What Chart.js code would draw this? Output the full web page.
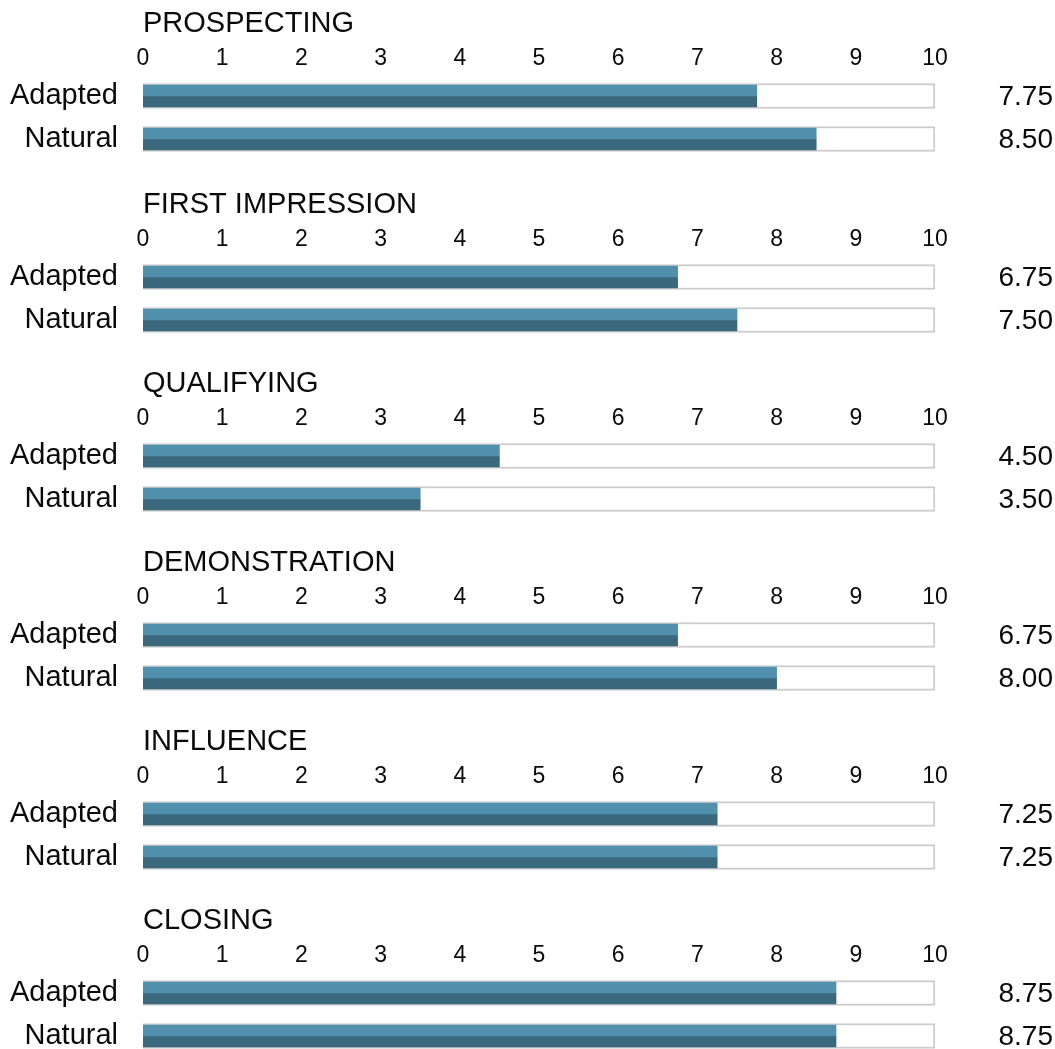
<!DOCTYPE html>
<html>
<head>
<meta charset="utf-8">
<script src="https://cdn.jsdelivr.net/npm/chart.js@4/dist/chart.umd.min.js"></script>
<style>
  body { margin: 0; background: #fff; overflow: hidden; }
  .section { position: absolute; left: 0; width: 1055px; height: 179px; }
</style>
</head>
<body>
<div id="root"></div>
<script>
const sections  = ['PROSPECTING', 'FIRST IMPRESSION', 'QUALIFYING', 'DEMONSTRATION', 'INFLUENCE', 'CLOSING'];
const rowLabels = ['Adapted', 'Natural'];
const adapted   = [7.75, 6.75, 4.50, 6.75, 7.25, 8.75];
const natural   = [8.50, 7.50, 3.50, 8.00, 7.25, 8.75];
const scaleMax  = 10;

const LIGHT = '#5090ad';
const DARK  = '#3a687c';
const TRACK = '#cccccc';
const TEXT  = '#0a0a0a';
const FONT  = "'Liberation Sans', Arial, sans-serif";

const sectionTops = [0, 181, 360, 539, 718, 897];

// value text on the right of each row
const valueLabels = {
  id: 'valueLabels',
  afterDatasetsDraw(chart) {
    const ctx = chart.ctx;
    const y = chart.scales.y;
    const vals = chart.data.datasets[1].data;
    ctx.save();
    ctx.font = '28px ' + FONT;
    ctx.fillStyle = TEXT;
    ctx.textAlign = 'right';
    ctx.textBaseline = 'middle';
    vals.forEach((v, i) => ctx.fillText(v.toFixed(2), chart.width - 2, y.getPixelForValue(i) + 1));
    ctx.restore();
  }
};

function buildSection(i) {
  const wrap = document.createElement('div');
  wrap.className = 'section';
  wrap.style.top = sectionTops[i] + 'px';
  const canvas = document.createElement('canvas');
  wrap.appendChild(canvas);
  document.getElementById('root').appendChild(wrap);

  const vals = [adapted[i], natural[i]];

  new Chart(canvas.getContext('2d'), {
    type: 'bar',
    data: {
      labels: rowLabels,
      datasets: [
        {
          label: 'track',
          data: rowLabels.map(() => scaleMax),
          grouped: false,
          backgroundColor: '#ffffff',
          borderColor: TRACK,
          borderWidth: 2,
          borderSkipped: false,
          barThickness: 25,
          order: 2
        },
        {
          label: 'top',
          data: vals,
          backgroundColor: LIGHT,
          borderWidth: 0,
          barThickness: 11,
          order: 1
        },
        {
          label: 'bottom',
          data: vals,
          backgroundColor: DARK,
          borderWidth: 0,
          barThickness: 11,
          order: 1
        }
      ]
    },
    options: {
      indexAxis: 'y',
      responsive: true,
      maintainAspectRatio: false,
      animation: false,
      layout: { padding: { top: 0, right: 120, bottom: 18.5, left: 0 } },
      plugins: {
        legend: { display: false },
        tooltip: { enabled: false },
        title: {
          display: true,
          text: sections[i],
          align: 'start',
          fullSize: false,
          color: TEXT,
          font: { family: FONT, size: 29, weight: 'normal' },
          padding: { top: 7, bottom: 0 }
        }
      },
      scales: {
        x: {
          position: 'top',
          min: 0,
          max: scaleMax,
          grid: { display: false, drawTicks: false },
          border: { display: false },
          ticks: {
            stepSize: 1,
            padding: 2,
            color: TEXT,
            font: { family: FONT, size: 23 }
          },
          afterFit: s => { s.height = 74.5 - 41.8; }
        },
        y: {
          offset: true,
          grid: { display: false, drawTicks: false },
          border: { display: false },
          ticks: {
            padding: 25,
            autoSkip: false,
            color: TEXT,
            font: { family: FONT, size: 29 }
          },
          afterFit: s => {
            s.width = 143;
            s.paddingTop = 0;
            s.paddingBottom = 0;
          }
        }
      }
    },
    plugins: [valueLabels]
  });
}

sections.forEach((_, i) => buildSection(i));
</script>
</body>
</html>
